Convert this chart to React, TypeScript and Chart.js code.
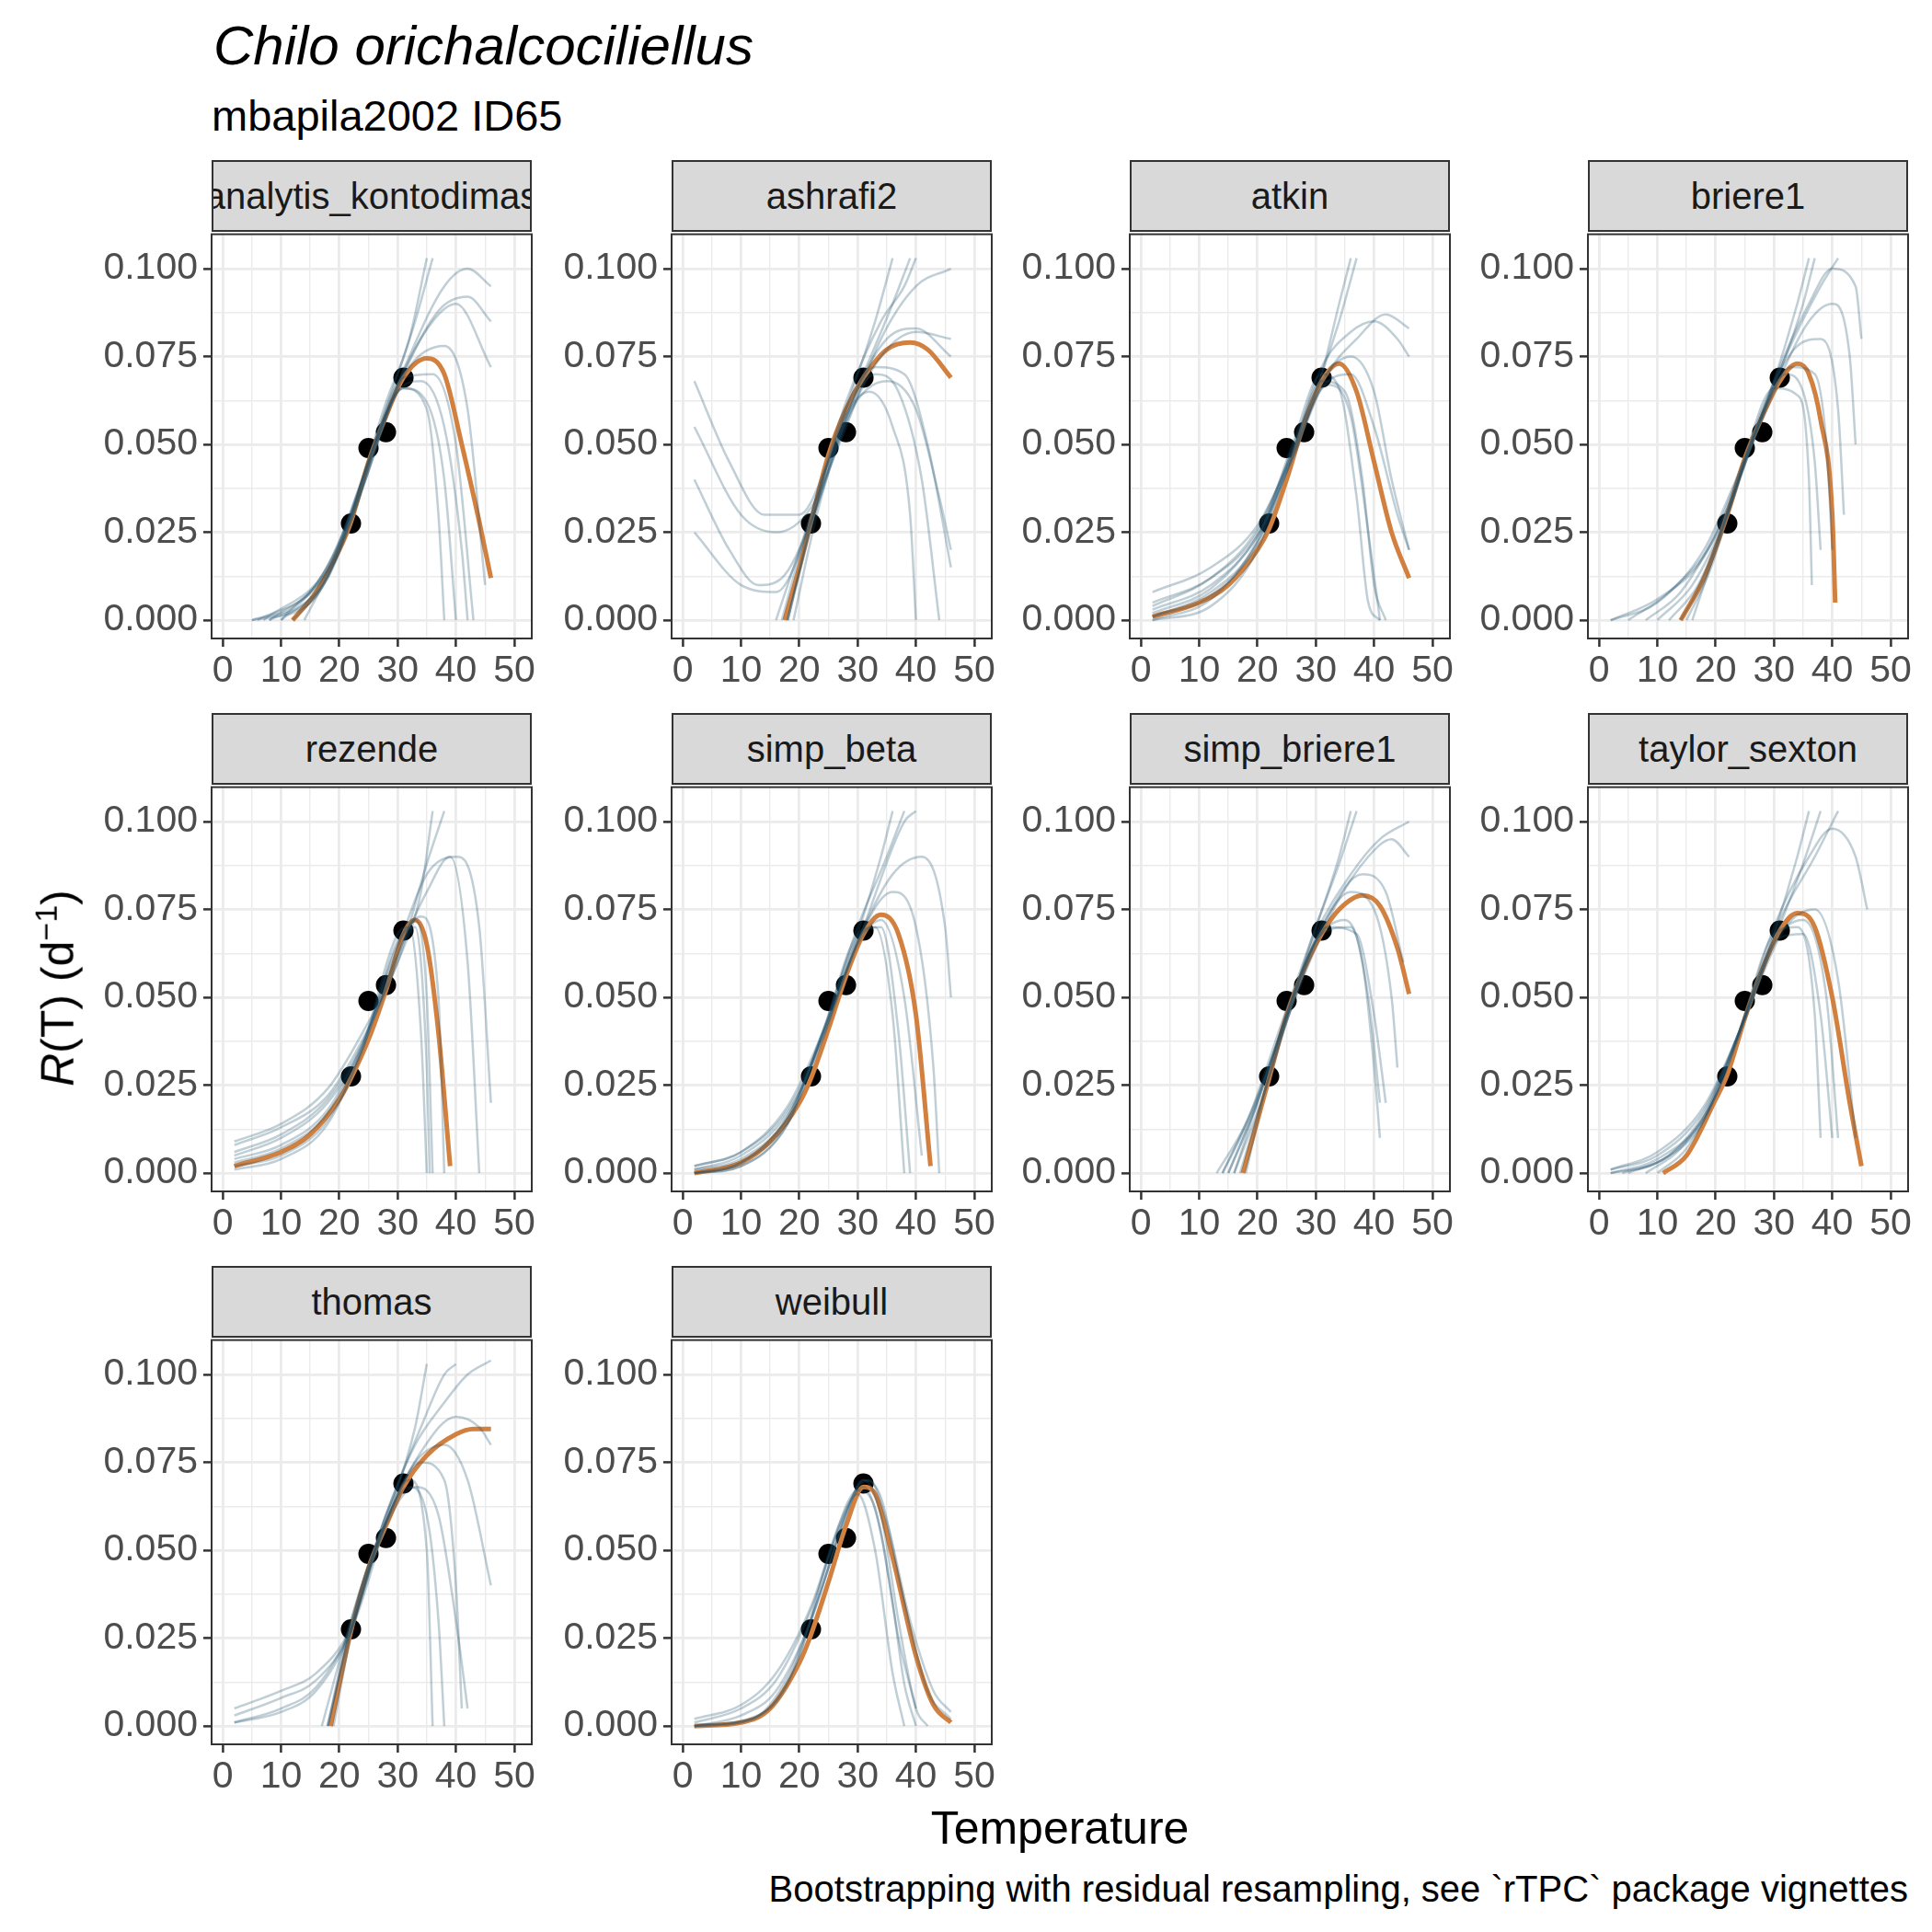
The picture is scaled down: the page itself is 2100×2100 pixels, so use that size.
import React, { useEffect, useRef } from "react";
import { Chart, registerables } from "chart.js";
Chart.register(...registerables);

const panelNames = ["analytis_kontodimas", "ashrafi2", "atkin", "briere1", "rezende", "simp_beta", "simp_briere1", "taylor_sexton", "thomas", "weibull"];
const obsTemp = [22, 25, 28, 31];
const obsRate = [0.0275, 0.049, 0.0535, 0.069];
const xTicks = [0, 10, 20, 30, 40, 50];
const yTicks = [0, 0.025, 0.05, 0.075, 0.1];

const fitted: number[][] = [
  [12, 0, 16, 0.008, 20, 0.02, 22, 0.028, 25, 0.045, 28, 0.058, 31, 0.069, 35, 0.0745, 38, 0.07, 41, 0.05, 44, 0.028, 46, 0.012],
  [17.5, 0, 20, 0.015, 22, 0.028, 25, 0.047, 28, 0.06, 31, 0.069, 35, 0.077, 39, 0.079, 42, 0.077, 46, 0.069],
  [2, 0.001, 10, 0.005, 15, 0.01, 20, 0.02, 22, 0.026, 25, 0.04, 28, 0.056, 31, 0.068, 34, 0.073, 37, 0.065, 40, 0.045, 43, 0.025, 46, 0.012],
  [14, 0, 18, 0.012, 22, 0.03, 25, 0.046, 28, 0.058, 31, 0.068, 34, 0.073, 36, 0.07, 38, 0.057, 40, 0.03, 40.5, 0.005],
  [2, 0.002, 10, 0.006, 15, 0.011, 20, 0.021, 22, 0.027, 25, 0.038, 28, 0.052, 31, 0.068, 33, 0.072, 35, 0.065, 37, 0.04, 39, 0.002],
  [2, 0, 10, 0.003, 15, 0.009, 20, 0.02, 22, 0.027, 25, 0.041, 28, 0.056, 31, 0.068, 34, 0.0735, 37, 0.068, 40, 0.045, 42.5, 0.002],
  [17.5, 0, 20, 0.015, 22, 0.027, 25, 0.045, 28, 0.058, 31, 0.068, 34, 0.075, 38, 0.079, 41, 0.076, 44, 0.064, 46, 0.051],
  [11, 0, 15, 0.005, 20, 0.021, 22, 0.028, 25, 0.044, 28, 0.058, 31, 0.069, 34, 0.074, 37, 0.07, 40, 0.05, 43, 0.02, 45, 0.002],
  [18.5, 0, 20, 0.012, 22, 0.027, 25, 0.045, 28, 0.057, 31, 0.068, 35, 0.077, 40, 0.083, 43, 0.0845, 46, 0.0845],
  [2, 0, 10, 0.001, 15, 0.005, 20, 0.018, 22, 0.026, 25, 0.041, 28, 0.057, 31, 0.068, 33, 0.066, 36, 0.048, 40, 0.02, 43, 0.006, 46, 0.001],
];

const boot: number[][][] = [
  [
    [5, 0, 15, 0.005, 22, 0.028, 28, 0.06, 33, 0.085, 36, 0.103],
    [8, 0, 16, 0.008, 22, 0.03, 28, 0.062, 32, 0.08, 35, 0.103],
    [5, 0, 14, 0.006, 22, 0.029, 30, 0.067, 36, 0.085, 40, 0.09, 46, 0.072],
    [10, 0, 18, 0.012, 22, 0.028, 30, 0.066, 37, 0.088, 42, 0.092, 46, 0.085],
    [6, 0, 16, 0.01, 24, 0.038, 31, 0.066, 35, 0.062, 38, 0.04, 40, 0],
    [12, 0, 18, 0.012, 24, 0.04, 31, 0.069, 36, 0.07, 40, 0.05, 43, 0],
    [8, 0, 18, 0.014, 25, 0.045, 31, 0.066, 35, 0.06, 37, 0.03, 38, 0],
    [10, 0, 20, 0.02, 26, 0.05, 32, 0.072, 38, 0.078, 42, 0.06, 45, 0.01],
    [14, 0, 20, 0.02, 26, 0.05, 32, 0.075, 38, 0.095, 42, 0.1, 46, 0.095],
    [7, 0, 18, 0.015, 24, 0.04, 30, 0.065, 34, 0.068, 38, 0.055, 41, 0.02, 42, 0],
  ],
  [
    [2, 0.068, 8, 0.045, 14, 0.03, 20, 0.03, 25, 0.045, 31, 0.07, 36, 0.09, 39, 0.103],
    [2, 0.055, 10, 0.03, 16, 0.025, 22, 0.032, 28, 0.055, 34, 0.08, 40, 0.095, 46, 0.1],
    [2, 0.025, 10, 0.01, 16, 0.008, 22, 0.028, 28, 0.06, 33, 0.085, 36, 0.103],
    [17, 0, 22, 0.03, 28, 0.058, 33, 0.07, 37, 0.065, 41, 0.04, 44, 0],
    [18, 0, 22, 0.028, 28, 0.06, 33, 0.072, 38, 0.07, 42, 0.05, 46, 0.015],
    [18, 0, 22, 0.027, 28, 0.058, 32, 0.065, 36, 0.055, 39, 0.03, 40, 0],
    [19, 0, 23, 0.03, 29, 0.062, 35, 0.08, 40, 0.083, 46, 0.075],
    [16, 0, 22, 0.03, 28, 0.062, 34, 0.085, 38, 0.095, 40, 0.103],
    [18, 0, 23, 0.032, 29, 0.06, 35, 0.068, 40, 0.06, 44, 0.035, 46, 0.02],
    [2, 0.04, 8, 0.02, 13, 0.01, 17, 0.012, 22, 0.028, 28, 0.056, 34, 0.075, 40, 0.082, 46, 0.08],
  ],
  [
    [2, 0.001, 12, 0.008, 20, 0.022, 26, 0.047, 31, 0.07, 34, 0.09, 36, 0.103],
    [2, 0.005, 12, 0.012, 20, 0.025, 26, 0.048, 31, 0.068, 35, 0.065, 38, 0.04, 40, 0.01, 42, 0],
    [2, 0.008, 12, 0.015, 20, 0.027, 26, 0.047, 31, 0.066, 36, 0.07, 40, 0.055, 44, 0.03, 46, 0.02],
    [2, 0, 12, 0.004, 20, 0.02, 26, 0.048, 31, 0.072, 36, 0.082, 40, 0.085, 44, 0.08, 46, 0.075],
    [2, 0, 12, 0.006, 20, 0.023, 26, 0.05, 31, 0.07, 34, 0.066, 37, 0.035, 39, 0.005, 41, 0],
    [2, 0.003, 12, 0.01, 20, 0.024, 26, 0.046, 32, 0.07, 37, 0.08, 42, 0.087, 46, 0.083],
    [2, 0.001, 12, 0.007, 20, 0.022, 26, 0.049, 31, 0.07, 34, 0.085, 37, 0.103],
    [2, 0.002, 12, 0.009, 20, 0.024, 26, 0.046, 32, 0.067, 36, 0.058, 39, 0.025, 41, 0],
    [2, 0.004, 12, 0.012, 20, 0.026, 26, 0.048, 31, 0.068, 36, 0.075, 40, 0.065, 43, 0.04, 46, 0.02],
  ],
  [
    [2, 0, 10, 0.006, 18, 0.018, 24, 0.04, 30, 0.068, 34, 0.09, 36, 0.103],
    [5, 0, 12, 0.008, 20, 0.024, 26, 0.05, 32, 0.075, 35, 0.09, 37, 0.103],
    [8, 0, 14, 0.008, 20, 0.025, 26, 0.05, 32, 0.07, 35, 0.065, 37, 0.045, 38, 0.02],
    [10, 0, 16, 0.01, 22, 0.03, 28, 0.058, 33, 0.072, 37, 0.07, 39, 0.05, 40, 0.02],
    [12, 0, 17, 0.01, 22, 0.03, 28, 0.06, 34, 0.078, 38, 0.08, 41, 0.06, 42, 0.03],
    [15, 0, 19, 0.014, 24, 0.04, 30, 0.068, 36, 0.09, 40, 0.1, 44, 0.095, 45, 0.08],
    [2, 0, 10, 0.005, 18, 0.02, 24, 0.042, 30, 0.066, 34, 0.064, 36, 0.04, 36.5, 0.01],
    [14, 0, 18, 0.012, 24, 0.04, 30, 0.065, 36, 0.085, 40, 0.09, 43, 0.075, 44, 0.05],
    [16, 0, 20, 0.02, 26, 0.05, 32, 0.075, 38, 0.095, 41, 0.103],
  ],
  [
    [2, 0.008, 10, 0.013, 18, 0.022, 24, 0.038, 30, 0.06, 34, 0.08, 36, 0.103],
    [2, 0.005, 10, 0.01, 18, 0.02, 24, 0.036, 30, 0.062, 33, 0.072, 35, 0.05, 36, 0],
    [2, 0.001, 10, 0.004, 18, 0.014, 24, 0.036, 30, 0.068, 32, 0.07, 34, 0.04, 35, 0],
    [2, 0.006, 10, 0.011, 18, 0.021, 24, 0.037, 30, 0.062, 35, 0.08, 39, 0.09, 42, 0.06, 44, 0],
    [2, 0.003, 10, 0.007, 18, 0.017, 24, 0.036, 30, 0.065, 34, 0.073, 37, 0.05, 38, 0],
    [2, 0.009, 10, 0.014, 18, 0.024, 24, 0.04, 30, 0.06, 35, 0.088, 38, 0.103],
    [2, 0.004, 10, 0.008, 18, 0.018, 24, 0.037, 30, 0.064, 35, 0.085, 40, 0.09, 44, 0.07, 46, 0.02],
    [2, 0.002, 10, 0.005, 18, 0.015, 24, 0.035, 30, 0.066, 33, 0.07, 35, 0.03, 35.5, 0],
  ],
  [
    [2, 0, 10, 0.003, 18, 0.015, 24, 0.04, 30, 0.068, 34, 0.09, 36, 0.103],
    [2, 0.001, 10, 0.005, 18, 0.017, 24, 0.038, 30, 0.065, 34, 0.072, 38, 0.05, 41, 0.005],
    [2, 0, 10, 0.002, 18, 0.014, 24, 0.04, 30, 0.068, 33, 0.07, 36, 0.045, 38, 0],
    [2, 0.002, 10, 0.006, 18, 0.018, 24, 0.039, 30, 0.066, 36, 0.08, 40, 0.07, 43, 0.03, 44, 0],
    [2, 0, 10, 0.003, 18, 0.016, 24, 0.04, 30, 0.07, 35, 0.09, 38, 0.103],
    [2, 0.001, 10, 0.004, 18, 0.016, 24, 0.039, 30, 0.066, 36, 0.085, 41, 0.09, 45, 0.07, 46, 0.05],
    [2, 0, 10, 0.002, 18, 0.014, 24, 0.039, 30, 0.067, 34, 0.07, 37, 0.04, 39, 0],
    [2, 0.002, 10, 0.006, 18, 0.019, 24, 0.04, 31, 0.07, 38, 0.1, 40, 0.103],
  ],
  [
    [13, 0, 18, 0.014, 23, 0.035, 29, 0.065, 34, 0.09, 36, 0.103],
    [15, 0, 19, 0.016, 24, 0.04, 30, 0.066, 35, 0.072, 38, 0.06, 40, 0.03, 41, 0.01],
    [14, 0, 19, 0.017, 24, 0.04, 30, 0.068, 36, 0.085, 41, 0.095, 46, 0.1],
    [16, 0, 20, 0.02, 25, 0.045, 31, 0.068, 36, 0.07, 39, 0.05, 41, 0.02],
    [17, 0, 21, 0.022, 26, 0.048, 32, 0.073, 38, 0.085, 42, 0.08, 45, 0.06],
    [14, 0, 19, 0.018, 24, 0.042, 30, 0.07, 34, 0.088, 37, 0.103],
    [16, 0, 21, 0.022, 26, 0.048, 32, 0.07, 37, 0.068, 40, 0.045, 42, 0.02],
    [18, 0, 22, 0.028, 27, 0.052, 33, 0.075, 39, 0.09, 43, 0.095, 46, 0.09],
    [15, 0, 20, 0.02, 25, 0.045, 31, 0.07, 36, 0.08, 40, 0.075, 43, 0.05, 44, 0.03],
  ],
  [
    [2, 0, 10, 0.004, 18, 0.016, 24, 0.04, 30, 0.068, 34, 0.09, 36, 0.103],
    [2, 0.001, 10, 0.006, 18, 0.019, 24, 0.04, 30, 0.066, 35, 0.072, 39, 0.05, 41, 0.01],
    [5, 0, 12, 0.005, 18, 0.016, 24, 0.04, 30, 0.068, 34, 0.07, 37, 0.045, 38, 0.01],
    [2, 0, 10, 0.003, 18, 0.015, 24, 0.04, 30, 0.07, 36, 0.09, 40, 0.098, 44, 0.09, 46, 0.075],
    [8, 0, 14, 0.007, 20, 0.022, 26, 0.048, 32, 0.07, 37, 0.075, 41, 0.055, 44, 0.01],
    [2, 0.001, 10, 0.005, 18, 0.018, 24, 0.04, 30, 0.066, 35, 0.088, 38, 0.103],
    [10, 0, 15, 0.007, 20, 0.022, 26, 0.048, 31, 0.067, 35, 0.068, 38, 0.045, 40, 0.01],
    [4, 0, 12, 0.005, 18, 0.017, 24, 0.04, 31, 0.072, 37, 0.09, 41, 0.103],
  ],
  [
    [2, 0.003, 10, 0.008, 16, 0.013, 22, 0.027, 28, 0.058, 33, 0.085, 35, 0.103],
    [2, 0.001, 10, 0.004, 16, 0.01, 22, 0.027, 28, 0.06, 32, 0.07, 35, 0.05, 36, 0],
    [18, 0, 22, 0.028, 28, 0.058, 33, 0.075, 38, 0.08, 42, 0.07, 46, 0.04],
    [17, 0, 22, 0.03, 28, 0.06, 33, 0.08, 38, 0.092, 42, 0.1, 46, 0.104],
    [2, 0.005, 10, 0.01, 16, 0.015, 22, 0.028, 28, 0.058, 32, 0.068, 35, 0.06, 37, 0.03, 38, 0],
    [19, 0, 23, 0.034, 29, 0.062, 34, 0.075, 38, 0.07, 40, 0.04, 41, 0.005],
    [2, 0.001, 10, 0.005, 16, 0.011, 22, 0.028, 28, 0.06, 34, 0.085, 38, 0.1, 40, 0.103],
    [18, 0, 22, 0.03, 28, 0.058, 34, 0.078, 40, 0.088, 44, 0.085, 46, 0.08],
    [18, 0, 22, 0.027, 28, 0.057, 33, 0.068, 37, 0.06, 40, 0.03, 42, 0.005],
  ],
  [
    [2, 0, 10, 0.003, 16, 0.01, 22, 0.03, 27, 0.055, 31, 0.07, 34, 0.06, 37, 0.03, 40, 0.005, 42, 0],
    [2, 0.001, 10, 0.005, 16, 0.013, 22, 0.033, 27, 0.057, 31, 0.068, 34, 0.055, 37, 0.025, 40, 0.005],
    [2, 0, 12, 0.002, 18, 0.012, 23, 0.035, 28, 0.06, 31, 0.07, 34, 0.065, 38, 0.035, 42, 0.01, 46, 0.002],
    [2, 0.002, 10, 0.006, 16, 0.015, 22, 0.034, 27, 0.058, 30, 0.066, 33, 0.05, 36, 0.015, 38, 0],
    [2, 0, 12, 0.002, 18, 0.014, 24, 0.04, 29, 0.065, 32, 0.07, 35, 0.058, 39, 0.03, 43, 0.01, 46, 0.004],
    [2, 0, 14, 0.004, 20, 0.02, 25, 0.048, 30, 0.067, 33, 0.062, 36, 0.035, 38, 0.012, 40, 0],
  ],
];

const FONT = "'Liberation Sans', Arial, sans-serif";
const colLeft = [230, 730, 1228, 1726];
const rowTop = [252, 853, 1454];
const PW = 348, PH = 442, YW = 150, XH = 70, PADR = 30, STRIP_H = 78, TOPFIX = 28;

const toPts = (a: number[]) => {
  const r: { x: number; y: number }[] = [];
  for (let i = 0; i < a.length; i += 2) r.push({ x: a[i], y: a[i + 1] });
  return r;
};

const borderPlugin = {
  id: "panelBorder",
  afterDraw(chart: any) {
    const { ctx, chartArea: a } = chart;
    ctx.save();
    ctx.strokeStyle = "#333333";
    ctx.lineWidth = 2;
    ctx.strokeRect(a.left, a.top, a.right - a.left, a.bottom - a.top);
    ctx.restore();
  },
};

function Panel({ idx }: { idx: number }) {
  const ref = useRef<HTMLCanvasElement>(null);
  useEffect(() => {
    const isMajorX = (v: number) => Math.abs(v % 10) < 1e-6;
    const isMajorY = (v: number) => Math.abs(Math.round(v / 0.025) * 0.025 - v) < 1e-6;
    const datasets: any[] = boot[idx].map((c) => ({
      data: toPts(c),
      borderColor: "rgba(27,79,107,0.28)",
      borderWidth: 2.5,
      pointRadius: 0,
      cubicInterpolationMode: "monotone",
    }));
    datasets.push({
      data: toPts(fitted[idx]),
      borderColor: "#d1803f",
      borderWidth: 5,
      pointRadius: 0,
      cubicInterpolationMode: "monotone",
    });
    datasets.push({
      data: obsTemp.map((t, i) => ({ x: t, y: obsRate[i] })),
      showLine: false,
      pointRadius: 11,
      pointBackgroundColor: "#000",
      pointBorderWidth: 0,
    });
    const chart = new Chart(ref.current!, {
      type: "line",
      data: { datasets },
      options: {
        animation: false,
        responsive: false,
        devicePixelRatio: 1,
        layout: { padding: { left: 0, right: PADR, top: 0, bottom: 0 }, autoPadding: false },
        plugins: { legend: { display: false }, tooltip: { enabled: false } },
        scales: {
          x: {
            type: "linear",
            min: -1.9,
            max: 53,
            afterFit: (s: any) => { s.height = XH; },
            afterBuildTicks: (s: any) => {
              const t: any[] = [];
              for (let v = 0; v <= 50; v += 5) t.push({ value: v });
              s.ticks = t;
            },
            ticks: {
              autoSkip: false,
              maxRotation: 0,
              font: { family: FONT, size: 41 },
              color: "#4d4d4d",
              padding: 2,
              callback: (v: any) => (xTicks.includes(Number(v)) ? String(v) : ""),
            },
            grid: {
              color: "#ebebeb",
              lineWidth: (c: any) => (isMajorX(c.tick?.value ?? 0) ? 2.8 : 1.4),
              tickColor: (c: any) => (isMajorX(c.tick?.value ?? 0) ? "#333333" : "rgba(0,0,0,0)"),
              tickWidth: 2.5,
              tickLength: 9,
            },
            border: { display: false },
          },
          y: {
            type: "linear",
            min: -0.0052,
            max: 0.1098,
            afterFit: (s: any) => { s.width = YW; },
            afterBuildTicks: (s: any) => {
              const t: any[] = [];
              for (let k = 0; k <= 8; k++) t.push({ value: k * 0.0125 });
              s.ticks = t;
            },
            ticks: {
              autoSkip: false,
              font: { family: FONT, size: 41 },
              color: "#4d4d4d",
              padding: 6,
              callback: (v: any) => {
                const n = Number(v);
                return yTicks.some((y) => Math.abs(y - n) < 1e-6) ? n.toFixed(3) : "";
              },
            },
            grid: {
              color: "#ebebeb",
              lineWidth: (c: any) => (isMajorY(c.tick?.value ?? 0) ? 2.8 : 1.4),
              tickColor: (c: any) => (isMajorY(c.tick?.value ?? 0) ? "#333333" : "rgba(0,0,0,0)"),
              tickWidth: 2.5,
              tickLength: 9,
            },
            border: { display: false },
          },
        },
      } as any,
      plugins: [borderPlugin],
    });
    return () => chart.destroy();
  }, [idx]);
  const r = Math.floor(idx / 4), c = idx % 4;
  const left = colLeft[c], top = rowTop[r];
  return (
    <>
      <canvas
        ref={ref}
        width={YW + PW + PADR}
        height={PH + XH + TOPFIX}
        style={{ position: "absolute", left: left - YW, top: top - TOPFIX, width: YW + PW + PADR, height: PH + XH + TOPFIX }}
      />
      <div
        style={{
          position: "absolute", left, top: top - STRIP_H, width: PW, height: STRIP_H,
          boxSizing: "border-box", background: "#d9d9d9", border: "2px solid #333333",
          display: "flex", alignItems: "center", justifyContent: "center", overflow: "hidden",
          whiteSpace: "nowrap", fontFamily: FONT, fontSize: 40, color: "#1a1a1a",
        }}
      >
        {panelNames[idx]}
      </div>
    </>
  );
}

export default function App() {
  return (
    <div style={{ position: "absolute", left: 0, top: 0, width: 2100, height: 2100, background: "#fff", fontFamily: FONT, color: "#000" }}>
      <div style={{ position: "absolute", left: 232, top: 20, fontSize: 60, fontStyle: "italic", lineHeight: 1, whiteSpace: "nowrap" }}>
        Chilo orichalcociliellus
      </div>
      <div style={{ position: "absolute", left: 230, top: 102, fontSize: 47, lineHeight: 1, whiteSpace: "nowrap" }}>
        mbapila2002 ID65
      </div>
      {panelNames.map((_, i) => <Panel key={i} idx={i} />)}
      <div style={{ position: "absolute", left: 60, top: 1074, transform: "translate(-50%,-50%) rotate(-90deg)", fontSize: 50, lineHeight: 1, whiteSpace: "nowrap" }}>
        <i>R</i>(T) (d<sup style={{ fontSize: 34 }}>−1</sup>)
      </div>
      <div style={{ position: "absolute", left: 1152, top: 1962, transform: "translateX(-50%)", fontSize: 50, lineHeight: 1, whiteSpace: "nowrap" }}>
        Temperature
      </div>
      <div style={{ position: "absolute", right: 2100 - 2074, top: 2033, fontSize: 40, lineHeight: 1, whiteSpace: "nowrap" }}>
        Bootstrapping with residual resampling, see `rTPC` package vignettes
      </div>
    </div>
  );
}
